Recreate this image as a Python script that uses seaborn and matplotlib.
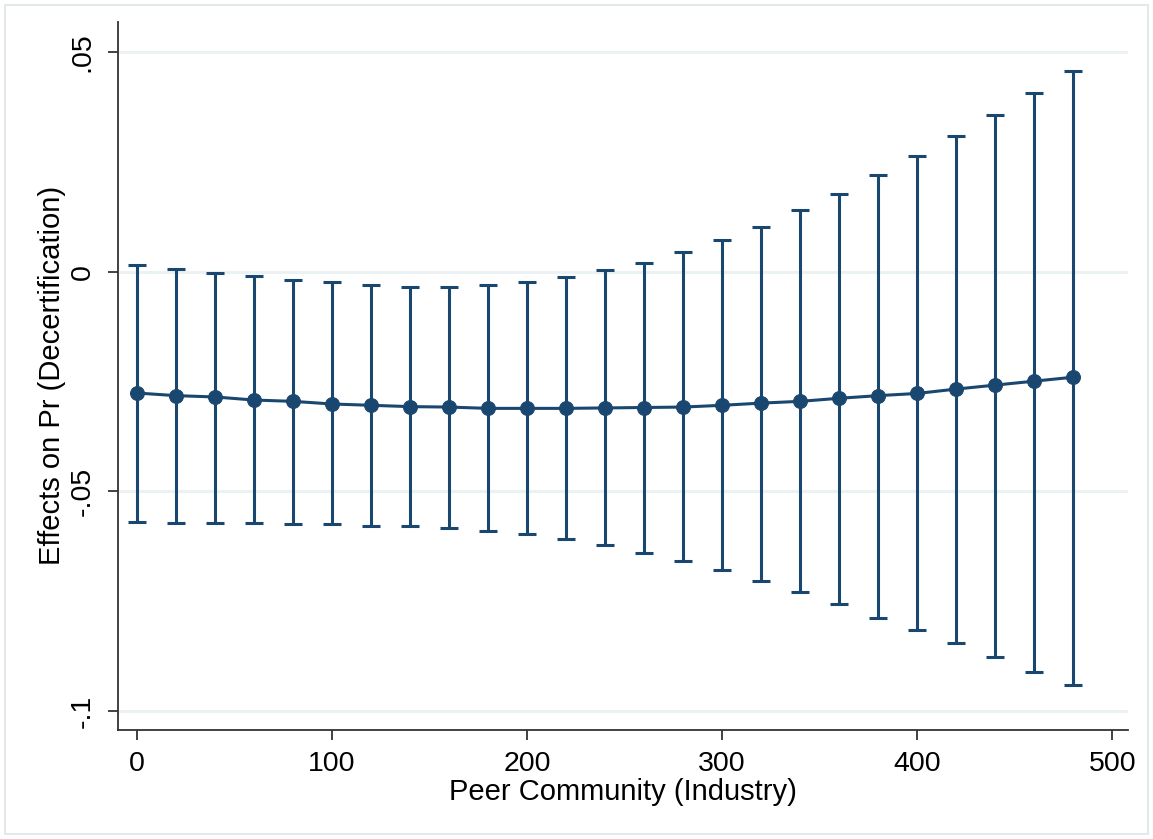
import numpy as np
import pandas as pd
import matplotlib
matplotlib.use("Agg")
import matplotlib.pyplot as plt
import seaborn as sns
from matplotlib.patches import Rectangle

# Data
peer = [0, 20, 40, 60, 80, 100, 120, 140, 160, 180, 200, 220, 240,
        260, 280, 300, 320, 340, 360, 380, 400, 420, 440, 460, 480]
effect = [-0.0276, -0.0282, -0.0285, -0.0292, -0.0295, -0.0301, -0.0304,
          -0.0307, -0.0308, -0.0311, -0.0311, -0.0311, -0.0310, -0.0309,
          -0.0308, -0.0304, -0.0299, -0.0295, -0.0288, -0.0282, -0.0277,
          -0.0267, -0.0258, -0.0249, -0.0240]
upper = [0.0016, 0.0006, -0.0003, -0.0009, -0.0019, -0.0024, -0.0030,
         -0.0035, -0.0035, -0.0030, -0.0024, -0.0013, 0.0003, 0.0021,
         0.0046, 0.0073, 0.0103, 0.0141, 0.0177, 0.0220, 0.0264, 0.0310,
         0.0358, 0.0408, 0.0457]
lower = [-0.0569, -0.0572, -0.0572, -0.0572, -0.0575, -0.0575, -0.0578,
         -0.0578, -0.0584, -0.0590, -0.0597, -0.0609, -0.0622, -0.0640,
         -0.0658, -0.0680, -0.0705, -0.0729, -0.0756, -0.0788, -0.0815,
         -0.0846, -0.0877, -0.0911, -0.0941]
xticks = [0, 100, 200, 300, 400, 500]
yticks = [-0.1, -0.05, 0, 0.05]
ytick_labels = ["-.1", "-.05", "0", ".05"]
xlabel = "Peer Community (Industry)"
ylabel = "Effects on Pr (Decertification)"

df = pd.DataFrame({"peer": peer, "effect": effect, "upper": upper, "lower": lower})

sns.set_theme(style="white")
plt.rcParams["font.family"] = ["Liberation Sans", "DejaVu Sans"]

navy = "#1a476f"
gridc = "#eaf2f3"

fig = plt.figure(figsize=(11.53, 8.39), dpi=100)
fig.patch.set_facecolor("white")
ax = fig.add_axes([0.1023, 0.130, 0.876, 0.844])

# confidence intervals
err_lo = df["effect"] - df["lower"]
err_hi = df["upper"] - df["effect"]
ax.errorbar(df["peer"], df["effect"], yerr=[err_lo, err_hi], fmt="none",
            ecolor=navy, elinewidth=2.2, capsize=6.5, capthick=2.2, zorder=2)

sns.lineplot(data=df, x="peer", y="effect", ax=ax, color=navy, linewidth=2.2,
             marker="o", markersize=10, markeredgecolor=navy,
             markerfacecolor=navy, zorder=3)

ax.set_xlim(-9.7, 508)
ax.set_ylim(-0.1043, 0.0569)
ax.set_xticks(xticks)
ax.set_xticklabels([str(t) for t in xticks])
ax.set_yticks(yticks)
ax.set_yticklabels(ytick_labels, rotation=90, va="center")

for y in yticks:
    ax.axhline(y, color=gridc, linewidth=2.2, zorder=0)

for s in ["top", "right"]:
    ax.spines[s].set_visible(False)
for s in ["left", "bottom"]:
    ax.spines[s].set_color("#333333")
    ax.spines[s].set_linewidth(1.3)

ax.tick_params(axis="both", direction="out", length=7, width=1.3,
               color="#333333", labelsize=20.5, labelcolor="black",
               bottom=True, left=True)
ax.tick_params(axis="x", pad=8)
ax.tick_params(axis="y", pad=9)

ax.set_xlabel(xlabel, fontsize=21, color="black", labelpad=1)
ax.set_ylabel(ylabel, fontsize=21, color="black", labelpad=3)

# faint outer border
fig.add_artist(Rectangle((0.004, 0.006), 0.992, 0.988, transform=fig.transFigure,
                         fill=False, edgecolor="#e3e9ea", linewidth=1.5))

fig.savefig("out.png", dpi=100, facecolor="white")
